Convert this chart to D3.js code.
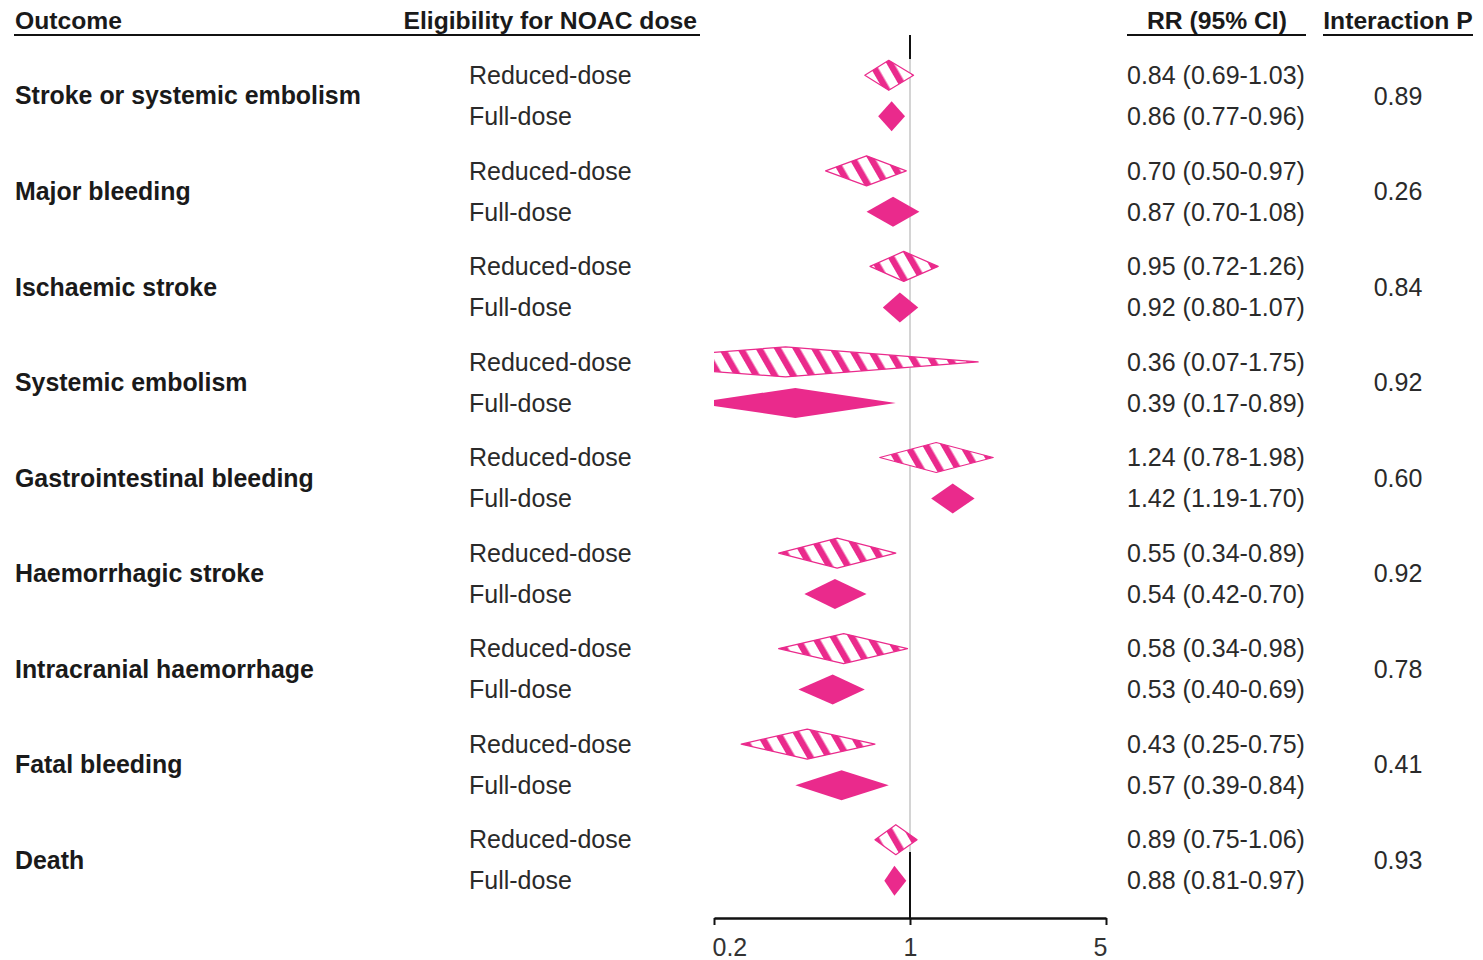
<!DOCTYPE html>
<html>
<head>
<meta charset="utf-8">
<script src="https://cdn.jsdelivr.net/npm/d3@7"></script>
<style>
  body { margin: 0; background: white; }
  text { font-family: "Liberation Sans", Arial, sans-serif; }
</style>
</head>
<body>
<script>
const outcomes = [
  "Stroke or systemic embolism",
  "Major bleeding",
  "Ischaemic stroke",
  "Systemic embolism",
  "Gastrointestinal bleeding",
  "Haemorrhagic stroke",
  "Intracranial haemorrhage",
  "Fatal bleeding",
  "Death"
];
const doses = ["Reduced-dose", "Full-dose"];

const reducedRR = [0.84, 0.70, 0.95, 0.36, 1.24, 0.55, 0.58, 0.43, 0.89];
const reducedLo = [0.69, 0.50, 0.72, 0.07, 0.78, 0.34, 0.34, 0.25, 0.75];
const reducedHi = [1.03, 0.97, 1.26, 1.75, 1.98, 0.89, 0.98, 0.75, 1.06];

const fullRR = [0.86, 0.87, 0.92, 0.39, 1.42, 0.54, 0.53, 0.57, 0.88];
const fullLo = [0.77, 0.70, 0.80, 0.17, 1.19, 0.42, 0.40, 0.39, 0.81];
const fullHi = [0.96, 1.08, 1.07, 0.89, 1.70, 0.70, 0.69, 0.84, 0.97];

const interactionP = ["0.89", "0.26", "0.84", "0.92", "0.60", "0.92", "0.78", "0.41", "0.93"];
const axisTicks = [0.2, 1, 5];

const width = 1483;
const height = 960;
const pink = '#ea2a8c';
const fmt = d3.format('.2f');

const rows = [];
outcomes.forEach((o, i) => {
  rows.push({outcome: o, dose: doses[0], rr: reducedRR[i], lo: reducedLo[i], hi: reducedHi[i]});
  rows.push({outcome: o, dose: doses[1], rr: fullRR[i], lo: fullLo[i], hi: fullHi[i]});
});

const svg = d3.select('body')
  .append('svg')
  .attr('width', width)
  .attr('height', height);

const defs = svg.append('defs');
const pat = defs.append('pattern')
  .attr('id', 'hatch')
  .attr('patternUnits', 'userSpaceOnUse')
  .attr('width', 16)
  .attr('height', 16)
  .attr('patternTransform', 'rotate(-30)');
pat.append('rect').attr('width', 16).attr('height', 16).attr('fill', 'white');
pat.append('rect').attr('width', 6.5).attr('height', 16).attr('fill', pink);

const xScale = d3.scaleLog()
  .domain([0.2, 5])
  .range([714, 1106]);

defs.append('clipPath')
  .attr('id', 'plotclip')
  .append('rect')
  .attr('x', xScale.range()[0])
  .attr('y', 0)
  .attr('width', xScale.range()[1] - xScale.range()[0])
  .attr('height', height);

const yGroup = d3.scaleBand()
  .domain(outcomes)
  .range([48, 908]);

const yDose = d3.scalePoint()
  .domain(doses)
  .range([-20.5, 20.5]);

const yRow = d => yGroup(d.outcome) + yGroup.bandwidth() / 2 + yDose(d.dose);

// headers
const headers = [
  {t: 'Outcome', x: 15, a: 'start'},
  {t: 'Eligibility for NOAC dose', x: 697, a: 'end'},
  {t: 'RR (95% CI)', x: 1217, a: 'middle'},
  {t: 'Interaction P', x: 1398, a: 'middle'}
];
svg.selectAll('.header')
  .data(headers)
  .enter()
  .append('text')
  .attr('class', 'header')
  .attr('x', d => d.x)
  .attr('y', 29)
  .attr('text-anchor', d => d.a)
  .style('font-size', '24.7px')
  .style('font-weight', 'bold')
  .attr('fill', '#1a1a1a')
  .text(d => d.t);

const rules = [[14, 700], [1127, 1306], [1323, 1473]];
svg.selectAll('.rule')
  .data(rules)
  .enter()
  .append('line')
  .attr('x1', d => d[0])
  .attr('x2', d => d[1])
  .attr('y1', 35)
  .attr('y2', 35)
  .attr('stroke', '#111')
  .attr('stroke-width', 2);

// reference line at 1
svg.append('line')
  .attr('x1', xScale(1)).attr('x2', xScale(1))
  .attr('y1', 35).attr('y2', 918)
  .attr('stroke', '#111').attr('stroke-width', 2);
svg.append('line')
  .attr('x1', xScale(1)).attr('x2', xScale(1))
  .attr('y1', 59).attr('y2', 852)
  .attr('stroke', '#d4d4d4').attr('stroke-width', 2);

// outcome labels
svg.selectAll('.outcome')
  .data(outcomes)
  .enter()
  .append('text')
  .attr('class', 'outcome')
  .attr('x', 15)
  .attr('y', d => yGroup(d) + yGroup.bandwidth() / 2)
  .attr('dy', '0.35em')
  .style('font-size', '24.9px')
  .style('font-weight', 'bold')
  .attr('fill', '#1a1a1a')
  .text(d => d);

svg.selectAll('.pval')
  .data(interactionP)
  .enter()
  .append('text')
  .attr('class', 'pval')
  .attr('x', 1398)
  .attr('y', (d, i) => yGroup(outcomes[i]) + yGroup.bandwidth() / 2)
  .attr('dy', '0.35em')
  .attr('text-anchor', 'middle')
  .style('font-size', '25px')
  .attr('fill', '#2a2a2a')
  .text(d => d);

svg.selectAll('.dose')
  .data(rows)
  .enter()
  .append('text')
  .attr('class', 'dose')
  .attr('x', 469)
  .attr('y', yRow)
  .attr('dy', '0.35em')
  .style('font-size', '25px')
  .attr('fill', '#2a2a2a')
  .text(d => d.dose);

svg.selectAll('.rr')
  .data(rows)
  .enter()
  .append('text')
  .attr('class', 'rr')
  .attr('x', 1127)
  .attr('y', yRow)
  .attr('dy', '0.35em')
  .style('font-size', '25px')
  .attr('fill', '#2a2a2a')
  .text(d => `${fmt(d.rr)} (${fmt(d.lo)}-${fmt(d.hi)})`);

// diamonds
const half = 15;
svg.append('g')
  .attr('clip-path', 'url(#plotclip)')
  .selectAll('path')
  .data(rows)
  .enter()
  .append('path')
  .attr('d', d => {
    const y = yRow(d);
    return `M${xScale(d.lo)},${y}L${xScale(d.rr)},${y - half}L${xScale(d.hi)},${y}L${xScale(d.rr)},${y + half}Z`;
  })
  .attr('fill', d => d.dose === 'Full-dose' ? pink : 'url(#hatch)')
  .attr('stroke', pink)
  .attr('stroke-width', d => d.dose === 'Full-dose' ? 0 : 1.2)
  .attr('stroke-linejoin', 'round');

// axis
const xAxis = d3.axisBottom(xScale)
  .tickValues(axisTicks)
  .tickFormat(d => d)
  .tickSize(7)
  .tickSizeOuter(0);

const axisG = svg.append('g')
  .attr('transform', 'translate(0,918)')
  .call(xAxis);
axisG.select('.domain').attr('stroke', '#111').attr('stroke-width', 2.5);
axisG.selectAll('.tick line').attr('stroke', '#111').attr('stroke-width', 2);
axisG.selectAll('.tick text')
  .attr('y', 20)
  .attr('fill', '#333')
  .style('font-size', '25px')
  .style('font-family', '"Liberation Sans", Arial, sans-serif')
  .attr('text-anchor', (d, i) => i === 0 ? 'start' : (i === axisTicks.length - 1 ? 'end' : 'middle'))
  .attr('dx', (d, i) => i === 0 ? '-2' : (i === axisTicks.length - 1 ? '1' : '0'));
</script>
</body>
</html>
